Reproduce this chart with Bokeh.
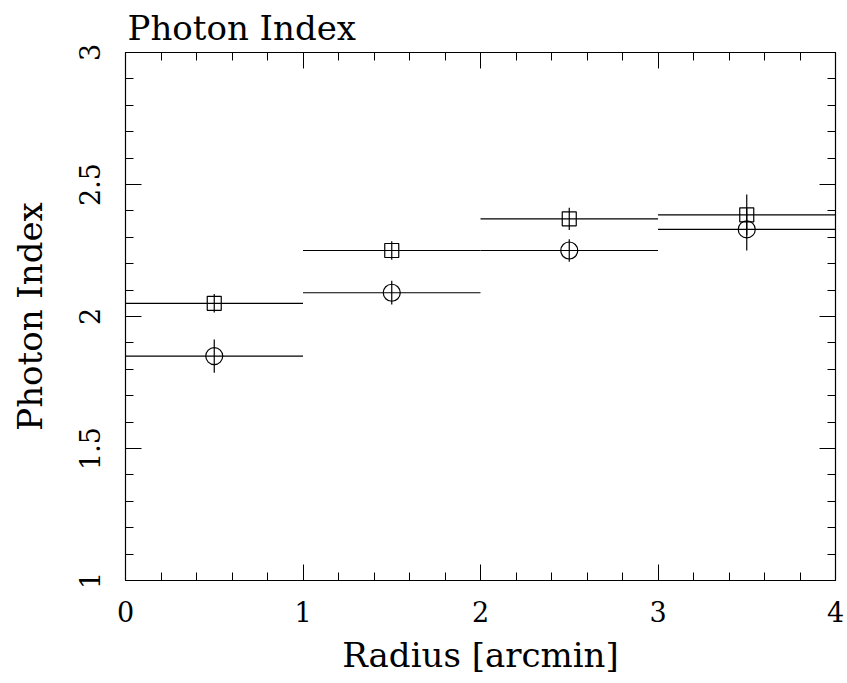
from bokeh.plotting import figure
from bokeh.models import LinearAxis, Range1d, FixedTicker, CustomJSTickFormatter
from bokeh.embed import file_html
from bokeh.resources import INLINE

# data
radius = [0.5, 1.5, 2.5, 3.5]
radius_halfwidth = [0.5, 0.5, 0.5, 0.5]
index_sq = [2.05, 2.25, 2.37, 2.385]
err_sq = [0.035, 0.035, 0.042, 0.077]
index_ci = [1.85, 2.09, 2.25, 2.33]
err_ci = [0.063, 0.045, 0.043, 0.08]

x_major = [0, 1, 2, 3, 4]
x_minor = [i * 0.2 for i in range(21)]
y_major = [1, 1.5, 2, 2.5, 3]
y_minor = [1 + i * 0.1 for i in range(21)]

FONT = "DejaVu Serif"

p = figure(width=847, height=683, output_backend="svg", toolbar_location=None,
           x_range=Range1d(0, 4), y_range=Range1d(1, 3),
           frame_width=710, frame_height=528,
           min_border_left=125, min_border_top=52, min_border_right=12, min_border_bottom=103,
           x_axis_type=None, y_axis_type=None)
p.grid.visible = False
p.outline_line_color = "black"
p.outline_line_width = 1.2
p.background_fill_color = "white"
p.border_fill_color = "white"

p.title.text = "Photon Index"
p.title.align = "left"
p.title.text_font = FONT
p.title.text_font_style = "normal"
p.title.text_font_size = "34px"
p.title.text_color = "black"
p.title.offset = 2
p.title.standoff = 10


def mk_axis(labels=True, label_text=None):
    ax = LinearAxis()
    ax.axis_line_color = "black"
    ax.major_tick_line_color = "black"
    ax.minor_tick_line_color = "black"
    ax.major_tick_in = 16
    ax.major_tick_out = 0
    ax.minor_tick_in = 8
    ax.minor_tick_out = 0
    ax.major_label_text_font = FONT
    ax.major_label_text_font_size = "27px"
    ax.major_label_text_color = "black"
    ax.major_label_standoff = 20
    if not labels:
        ax.formatter = CustomJSTickFormatter(code="return ''")
        ax.major_label_standoff = 0
    if label_text:
        ax.axis_label = label_text
        ax.axis_label_text_font = FONT
        ax.axis_label_text_font_style = "normal"
        ax.axis_label_text_font_size = "34px"
        ax.axis_label_text_color = "black"
        ax.axis_label_standoff = 10
    return ax


xb = mk_axis(True, "Radius [arcmin]")
xb.ticker = FixedTicker(ticks=x_major, minor_ticks=x_minor)
xt = mk_axis(False)
xt.ticker = FixedTicker(ticks=x_major, minor_ticks=x_minor)
yl = mk_axis(True, "Photon Index")
yl.ticker = FixedTicker(ticks=y_major, minor_ticks=y_minor)
yl.major_label_orientation = "vertical"
yl.major_label_standoff = 26
yl.axis_label_standoff = 26
yr = mk_axis(False)
yr.ticker = FixedTicker(ticks=y_major, minor_ticks=y_minor)

p.add_layout(xb, "below")
p.add_layout(xt, "above")
p.add_layout(yl, "left")
p.add_layout(yr, "right")

for ys, es in ((index_sq, err_sq), (index_ci, err_ci)):
    x0 = [x - w for x, w in zip(radius, radius_halfwidth)]
    x1 = [x + w for x, w in zip(radius, radius_halfwidth)]
    p.segment(x0=x0, y0=ys, x1=x1, y1=ys, line_color="black", line_width=1.2)
    p.segment(x0=radius, y0=[y - e for y, e in zip(ys, es)],
              x1=radius, y1=[y + e for y, e in zip(ys, es)],
              line_color="black", line_width=1.2)

p.scatter(radius, index_sq, marker="square", size=14, fill_color=None,
          line_color="black", line_width=1.2)
p.scatter(radius, index_ci, marker="circle", size=17, fill_color=None,
          line_color="black", line_width=1.2)

open("out.html", "w").write(file_html(p, INLINE))
